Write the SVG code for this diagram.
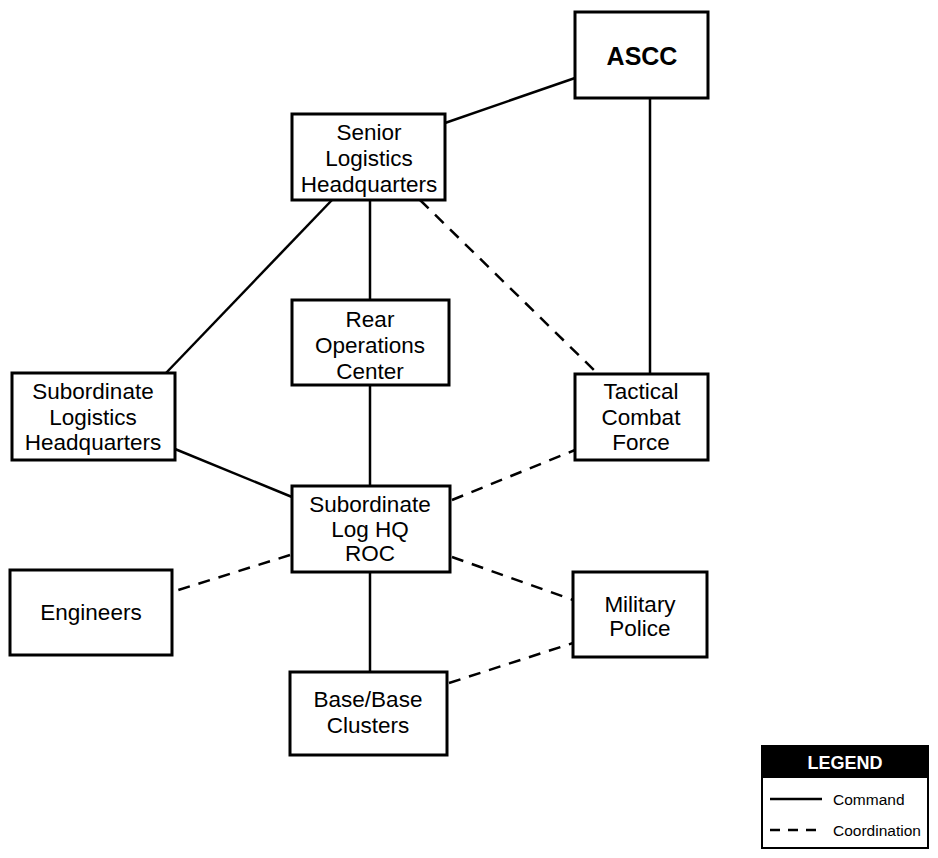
<svg xmlns="http://www.w3.org/2000/svg" width="938" height="858" viewBox="0 0 938 858">
<style>
.box{fill:#fff;stroke:#000;stroke-width:3}
.t{font-family:"Liberation Sans",Arial,sans-serif;font-size:22.5px;fill:#000;text-anchor:middle}
.b{font-weight:bold;font-size:25px}
.c{stroke:#000;stroke-width:2.5;fill:none}
.d{stroke:#000;stroke-width:2.5;fill:none;stroke-dasharray:12 9}
.lt{font-family:"Liberation Sans",Arial,sans-serif;font-size:15.5px;fill:#000}
</style>
<rect width="938" height="858" fill="#fff"/>
<g id="connectors">
<line class="c" x1="445" y1="123" x2="575" y2="78"/>
<line class="c" x1="650" y1="98" x2="650" y2="374"/>
<line class="c" x1="370" y1="200" x2="370" y2="300"/>
<line class="c" x1="370" y1="385" x2="370" y2="486"/>
<line class="c" x1="370" y1="572" x2="370" y2="672"/>
<line class="c" x1="332" y1="200" x2="166" y2="373"/>
<line class="c" x1="175" y1="449" x2="292" y2="497"/>
<line class="d" x1="420" y1="200" x2="598" y2="374"/>
<line class="d" x1="452" y1="500" x2="575" y2="450"/>
<line class="d" x1="290" y1="555" x2="172" y2="592"/>
<line class="d" x1="452" y1="557" x2="573" y2="600"/>
<line class="d" x1="449" y1="683" x2="573" y2="643"/>
</g>
<g id="ascc"><rect class="box" x="575" y="12" width="133" height="86"/><text class="t b" x="642" y="65">ASCC</text></g>
<g id="senior"><rect class="box" x="292" y="114" width="153" height="86"/><text class="t" x="369" y="140">Senior</text><text class="t" x="369" y="166">Logistics</text><text class="t" x="369" y="192">Headquarters</text></g>
<g id="rear"><rect class="box" x="292" y="300" width="157" height="85"/><text class="t" x="370" y="327">Rear</text><text class="t" x="370" y="353">Operations</text><text class="t" x="370" y="379">Center</text></g>
<g id="sublog"><rect class="box" x="12" y="373" width="163" height="87"/><text class="t" x="93" y="399">Subordinate</text><text class="t" x="93" y="425">Logistics</text><text class="t" x="93" y="450">Headquarters</text></g>
<g id="tactical"><rect class="box" x="575" y="374" width="133" height="86"/><text class="t" x="641" y="399">Tactical</text><text class="t" x="641" y="425">Combat</text><text class="t" x="641" y="450">Force</text></g>
<g id="roc"><rect class="box" x="292" y="486" width="158" height="86"/><text class="t" x="370" y="512">Subordinate</text><text class="t" x="370" y="537">Log HQ</text><text class="t" x="370" y="561">ROC</text></g>
<g id="engineers"><rect class="box" x="10" y="570" width="162" height="85"/><text class="t" x="91" y="620">Engineers</text></g>
<g id="mp"><rect class="box" x="573" y="572" width="134" height="85"/><text class="t" x="640" y="612">Military</text><text class="t" x="640" y="636">Police</text></g>
<g id="base"><rect class="box" x="290" y="672" width="157" height="83"/><text class="t" x="368" y="707">Base/Base</text><text class="t" x="368" y="733">Clusters</text></g>
<g id="legend">
<rect x="762" y="746" width="166" height="102" fill="#fff" stroke="#000" stroke-width="2"/>
<rect x="762" y="746" width="166" height="32" fill="#000"/>
<text class="lt" x="845" y="769" text-anchor="middle" style="fill:#fff;font-weight:bold;font-size:18px">LEGEND</text>
<line class="c" x1="770" y1="799" x2="822" y2="799"/>
<text class="lt" x="833" y="805">Command</text>
<line class="d" x1="770" y1="830" x2="824" y2="830" style="stroke-dasharray:10 8"/>
<text class="lt" x="833" y="836">Coordination</text>
</g>
</svg>
